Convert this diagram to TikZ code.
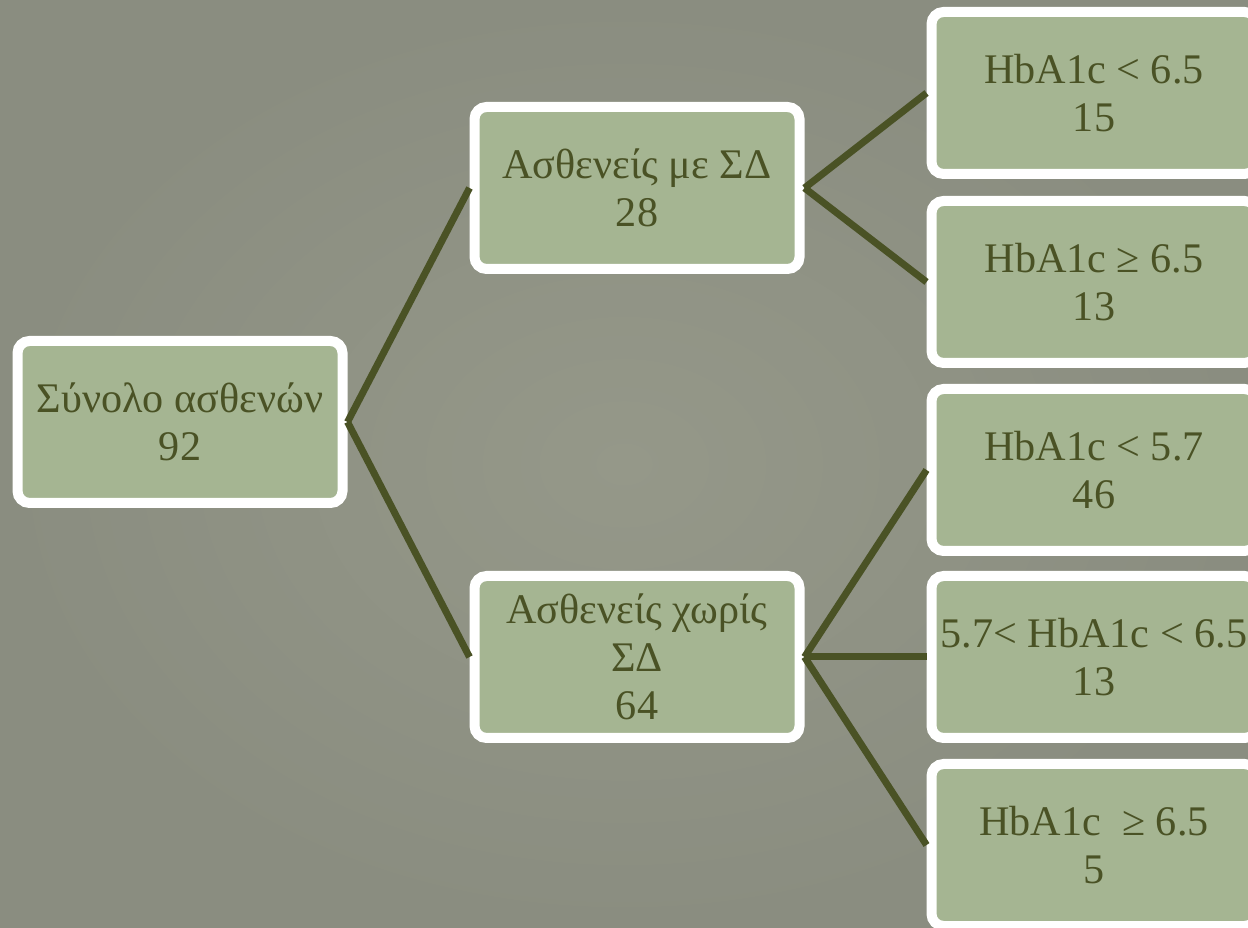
\documentclass[tikz,border=0pt]{standalone}
\usepackage{fontspec}
\setmainfont{Liberation Serif}
\usetikzlibrary{positioning}
\usetikzlibrary{shadows}
\definecolor{bggrey}{HTML}{8A8D80}
\definecolor{bglight}{HTML}{959889}
\definecolor{boxgreen}{HTML}{A5B592}
\definecolor{olive}{HTML}{4A5225}

\begin{document}
\begin{tikzpicture}
  [box/.style = {draw=white, line width=1mm, fill=boxgreen, rounded corners=1.2mm,
      minimum width=3.25cm, minimum height=1.62cm, inner sep=0pt, align=center,
      text=olive, font=\fontsize{12}{13.6}\selectfont,
      drop shadow={opacity=0.25, shadow xshift=0.3mm, shadow yshift=-0.4mm}},
   link/.style = {draw=olive, line width=0.7mm}]
  \useasboundingbox (0, 0) rectangle (12.48, -9.28);
  \shade [inner color=bglight, outer color=bggrey] (0, 0) rectangle (12.48, -9.28);

  \node [box] (all) at (1.80, -4.22) {Σύνολο ασθενών\\92};

  \node [box] (dm) at (6.37, -1.88) {Ασθενείς με ΣΔ\\28};
  \node [box] (nodm) at (6.37, -6.57) {Ασθενείς χωρίς\\ΣΔ\\64};

  \node [box] (dm1) at (10.94, -0.93) {HbA1c < 6.5\\15};
  \node [box] (dm2) at (10.94, -2.82) {HbA1c ≥ 6.5\\13};
  \node [box] (nd1) at (10.94, -4.70) {HbA1c < 5.7\\46};
  \node [box] (nd2) at (10.94, -6.57) {5.7< HbA1c < 6.5\\13};
  \node [box] (nd3) at (10.94, -8.45) {HbA1c\ \ ≥ 6.5\\5};

  \draw [link] (all.east) -- (dm.west);
  \draw [link] (all.east) -- (nodm.west);
  \draw [link] (dm.east) -- (dm1.west);
  \draw [link] (dm.east) -- (dm2.west);
  \draw [link] (nodm.east) -- (nd1.west);
  \draw [link] (nodm.east) -- (nd2.west);
  \draw [link] (nodm.east) -- (nd3.west);
\end{tikzpicture}
\end{document}
